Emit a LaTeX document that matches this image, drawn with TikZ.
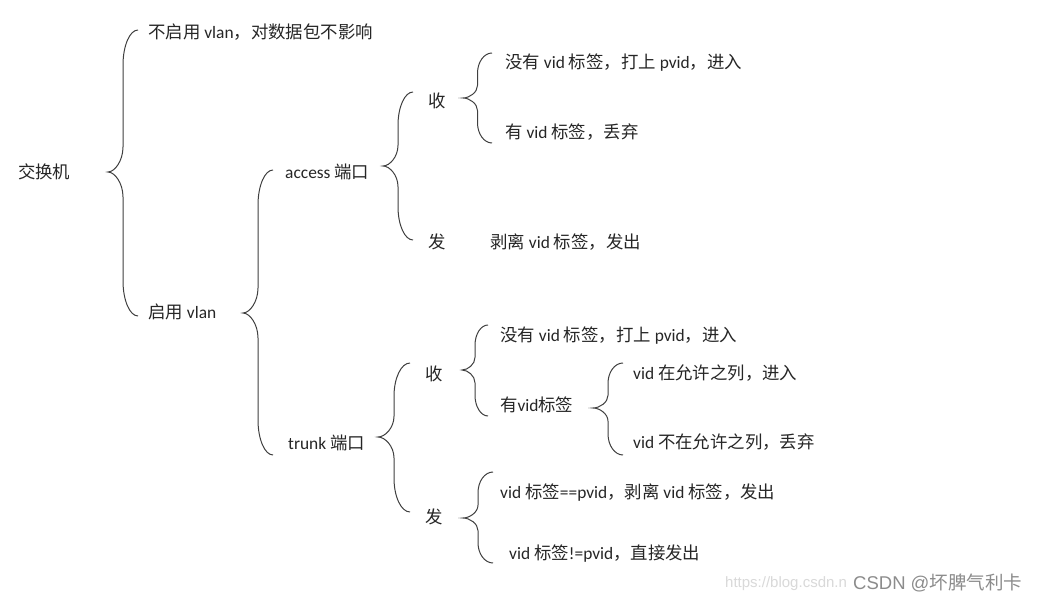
\documentclass[tikz,border=0pt]{standalone}
\usepackage{fontspec}
\setmainfont{Carlito}
\newfontfamily\zhfont{Noto Sans CJK SC}
\newfontfamily\wmfont{Liberation Sans}
\newcommand\zh[1]{{\zhfont #1}}
\tikzset{
  lbl/.style={anchor=west,inner sep=0pt,text=black!85,font=\fontsize{17.4}{21}\selectfont,text height=15pt,text depth=1.5pt},
  brace/.style={draw=black!75,line width=1pt},
}
\newcommand\brc[5]{%
 \pgfmathsetmacro\bvx{(#1+#3)/2}%
 \pgfmathsetmacro\bhu{#2-#4}%
 \pgfmathsetmacro\bhl{#5-#2}%
 \pgfmathsetmacro\bdeu{min(0.45*\bhu,35)}%
 \pgfmathsetmacro\bdtu{min(0.28*\bhu,25)}%
 \pgfmathsetmacro\bdel{min(0.45*\bhl,35)}%
 \pgfmathsetmacro\bdtl{min(0.28*\bhl,25)}%
 \draw[brace] (#3,#4) .. controls ({#3-0.55*(#3-\bvx)},#4) and (\bvx,{#4+0.45*\bdeu}) .. (\bvx,{#4+\bdeu})
   -- (\bvx,{#2-\bdtu}) .. controls (\bvx,{#2-0.45*\bdtu}) and ({#1+0.45*(\bvx-#1)},#2) .. (#1,#2)
   .. controls ({#1+0.45*(\bvx-#1)},#2) and (\bvx,{#2+0.45*\bdtl}) .. (\bvx,{#2+\bdtl})
   -- (\bvx,{#5-\bdel}) .. controls (\bvx,{#5-0.45*\bdel}) and ({#3-0.55*(#3-\bvx)},#5) .. (#3,#5);%
}
\begin{document}
\begin{tikzpicture}[x=1pt,y=-1pt]
\useasboundingbox[fill=white] (0,0) rectangle (1039,601);
% labels
\node[lbl] (root) at (18,172) {\zh{交换机}};
\node[lbl] (n1) at (148,32) {\zh{不启用} vlan\zh{，对数据包不影响}};
\node[lbl] (n2) at (148,312) {\zh{启用} vlan};
\node[lbl] (acc) at (285,172) {access \zh{端口}};
\node[lbl] (trk) at (288,443) {trunk \zh{端口}};
\node[lbl] (ar) at (428,101) {\zh{收}};
\node[lbl] (as) at (428,242) {\zh{发}};
\node[lbl] (ar1) at (505,62) {\zh{没有} vid \zh{标签，打上} pvid\zh{，进入}};
\node[lbl] (ar2) at (505,132) {\zh{有} vid \zh{标签，丢弃}};
\node[lbl] (as1) at (490,242) {\zh{剥离} vid \zh{标签，发出}};
\node[lbl] (tr) at (425,374) {\zh{收}};
\node[lbl] (ts) at (425,517) {\zh{发}};
\node[lbl] (tr1) at (500,335) {\zh{没有} vid \zh{标签，打上} pvid\zh{，进入}};
\node[lbl] (tr2) at (500,405) {\zh{有}vid\zh{标签}};
\node[lbl] (tr21) at (633,373) {vid \zh{在允许之列，进入}};
\node[lbl] (tr22) at (633,442) {vid \zh{不在允许之列，丢弃}};
\node[lbl] (ts1) at (500,492) {vid \zh{标签}==pvid\zh{，剥离} vid \zh{标签，发出}};
\node[lbl] (ts2) at (509,553) {vid \zh{标签}!=pvid\zh{，直接发出}};
% braces
\brc{108}{172}{138}{30}{316}
\brc{243}{313}{273}{170}{455}
\brc{383}{166}{413}{92}{240}
\brc{463}{98}{492}{53}{143}
\brc{378}{437}{410}{363}{512}
\brc{462}{370}{488}{325}{416}
\brc{593}{408}{623}{363}{455}
\brc{463}{518}{493}{472}{563}
% watermark
\node[anchor=west,inner sep=0pt,text=black!15,font=\wmfont\fontsize{15}{18}\selectfont] (wmurl) at (725,584) {https://blog.csdn.n};
\node[anchor=west,inner sep=0pt,text=black!45,font=\fontsize{18.5}{22}\selectfont] (wm) at (853,583) {{\wmfont CSDN @}\zh{坏脾气利卡}};
\end{tikzpicture}
\end{document}
